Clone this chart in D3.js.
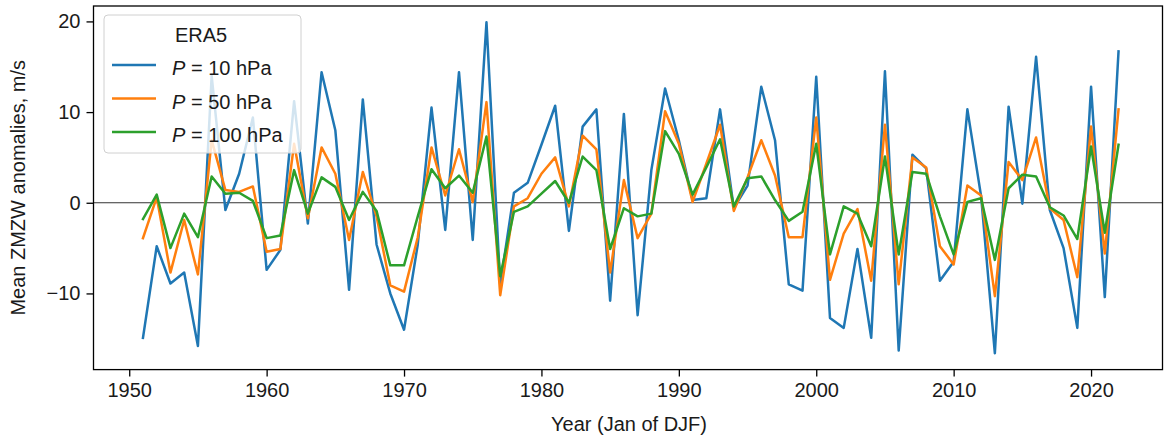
<!DOCTYPE html>
<html>
<head>
<meta charset="utf-8">
<script src="https://cdn.jsdelivr.net/npm/d3@7"></script>
<style>
  html, body { margin: 0; padding: 0; background: #fff; }
  svg { display: block; font-family: "Liberation Sans", Arial, sans-serif; }
</style>
</head>
<body>
<svg id="chart" width="1164" height="441"></svg>
<script>
const years = d3.range(1951, 2023);
const p10 = [-14.9, -4.8, -8.9, -7.7, -15.8, 14.0, -0.8, 3.2, 9.4, -7.4,
  -5.2, 11.2, -2.3, 14.4, 8.0, -9.6, 11.4, -4.6, -10.0, -14.0,
  -4.6, 10.5, -3.0, 14.4, -4.1, 19.9, -9.0, 1.1, 2.2, 6.4,
  10.7, -3.1, 8.4, 10.3, -10.8, 9.8, -12.4, 3.6, 12.6, 6.9,
  0.3, 0.5, 10.3, -0.6, 1.9, 12.8, 6.9, -9.0, -9.7, 13.9,
  -12.7, -13.8, -5.1, -14.9, 14.5, -16.3, 5.3, 3.8, -8.6, -6.5,
  10.3, 0.7, -16.6, 10.6, -0.1, 16.1, -0.8, -5.0, -13.8, 12.8,
  -10.4, 16.7];
const p50 = [-3.9, 0.6, -7.7, -1.9, -7.9, 6.9, 1.4, 1.2, 1.8, -5.4,
  -5.1, 6.5, -1.7, 6.1, 3.2, -4.1, 3.4, -1.5, -9.1, -9.8,
  -3.8, 6.1, 0.8, 5.9, 0.1, 11.1, -10.2, -0.4, 0.5, 3.2,
  5.0, -0.4, 7.4, 5.9, -7.7, 2.5, -3.9, -1.2, 10.1, 6.5,
  0.1, 4.3, 8.6, -0.9, 2.8, 6.9, 3.0, -3.8, -3.8, 9.4,
  -8.5, -3.4, -0.7, -8.6, 8.6, -9.0, 5.0, 3.9, -4.8, -6.8,
  1.9, 0.8, -10.3, 4.5, 2.5, 7.2, -0.6, -1.9, -8.2, 8.4,
  -5.6, 10.3];
const p100 = [-1.8, 0.9, -5.0, -1.2, -3.8, 2.9, 1.0, 1.1, 0.2, -3.9,
  -3.6, 3.6, -1.2, 2.8, 1.75, -1.9, 1.2, -0.9, -6.9, -6.9,
  -1.5, 3.7, 1.6, 3.0, 1.1, 7.3, -8.1, -1.0, -0.4, 1.0,
  2.4, 0.0, 5.1, 3.6, -5.1, -0.6, -1.5, -1.2, 7.9, 5.4,
  0.9, 3.9, 7.0, -0.4, 2.7, 2.9, 0.3, -2.0, -1.0, 6.5,
  -5.7, -0.4, -1.2, -4.8, 5.1, -5.7, 3.4, 3.2, -1.5, -5.7,
  0.1, 0.5, -6.3, 1.6, 3.1, 2.9, -0.5, -1.4, -4.0, 6.2,
  -3.3, 6.4];
const seriesNames = ["10", "50", "100"];
const seriesColors = ["#1f77b4", "#ff7f0e", "#2ca02c"];
const xTicks = [1950, 1960, 1970, 1980, 1990, 2000, 2010, 2020];
const yTicks = [-10, 0, 10, 20];
const legendTitle = "ERA5";
const xLabel = "Year (Jan of DJF)";
const yLabel = "Mean ZMZW anomalies, m/s";

const series = [p10, p50, p100];

const svg = d3.select("#chart");
const L = 93.5, R = 1162.5, T = 6, B = 369.6;
const x = d3.scaleLinear().domain([1947.4, 2025.2]).range([L, R]);
const y = d3.scaleLinear().domain([-18.4, 21.7]).range([B, T]);
const fs = 20;
const textColor = "#1a1a1a";

// zero line
svg.append("line")
  .attr("x1", L).attr("x2", R)
  .attr("y1", y(0)).attr("y2", y(0))
  .attr("stroke", "#000").attr("stroke-width", 1).attr("stroke-opacity", 0.8);

// lines
const line = d3.line().x((d, i) => x(years[i])).y(d => y(d));
series.forEach((s, k) => {
  svg.append("path")
    .datum(s)
    .attr("fill", "none")
    .attr("stroke", seriesColors[k])
    .attr("stroke-width", 2.5)
    .attr("stroke-linejoin", "round")
    .attr("stroke-linecap", "square")
    .attr("d", line);
});

// axes
const xAxis = svg.append("g")
  .attr("transform", `translate(0,${B})`)
  .call(d3.axisBottom(x).tickValues(xTicks).tickFormat(d3.format("d")).tickSizeInner(7).tickSizeOuter(0).tickPadding(6));
const yAxis = svg.append("g")
  .attr("transform", `translate(${L},0)`)
  .call(d3.axisLeft(y).tickValues(yTicks).tickFormat(d => d < 0 ? "\u2212" + Math.abs(d) : d).tickSizeInner(7).tickSizeOuter(0).tickPadding(6));
[xAxis, yAxis].forEach(g => {
  g.select(".domain").remove();
  g.selectAll(".tick line").attr("stroke", "#000").attr("stroke-width", 1.3);
  g.selectAll(".tick text").attr("fill", textColor).style("font-size", fs + "px").style("font-family", '"Liberation Sans", Arial, sans-serif');
});

// frame
svg.append("rect")
  .attr("x", L).attr("y", T).attr("width", R - L).attr("height", B - T)
  .attr("fill", "none").attr("stroke", "#000").attr("stroke-width", 1.3);

// axis labels
svg.append("text")
  .attr("x", (L + R) / 2 + 1).attr("y", 431)
  .attr("text-anchor", "middle").attr("fill", textColor)
  .style("font-size", fs + "px")
  .text(xLabel);
svg.append("text")
  .attr("transform", `translate(25,${(T + B) / 2}) rotate(-90)`)
  .attr("text-anchor", "middle").attr("fill", textColor)
  .style("font-size", fs + "px")
  .text(yLabel);

// legend
const lg = svg.append("g");
lg.append("rect")
  .attr("x", 104).attr("y", 15).attr("width", 197).attr("height", 138)
  .attr("rx", 4).attr("ry", 4)
  .attr("fill", "#fff").attr("fill-opacity", 0.8)
  .attr("stroke", "#d0d0d0").attr("stroke-width", 1);
lg.append("text")
  .attr("x", 201).attr("y", 42)
  .attr("text-anchor", "middle").attr("fill", textColor)
  .style("font-size", fs + "px")
  .text(legendTitle);
seriesNames.forEach((n, k) => {
  const yy = 65 + k * 33.5;
  lg.append("line")
    .attr("x1", 112).attr("x2", 156)
    .attr("y1", yy).attr("y2", yy)
    .attr("stroke", seriesColors[k]).attr("stroke-width", 2.5);
  const t = lg.append("text")
    .attr("x", 172).attr("y", yy + 10)
    .attr("fill", textColor)
    .style("font-size", fs + "px");
  t.append("tspan").attr("font-style", "italic").text("P");
  t.append("tspan").text(" = " + n + " hPa");
});
</script>
</body>
</html>
